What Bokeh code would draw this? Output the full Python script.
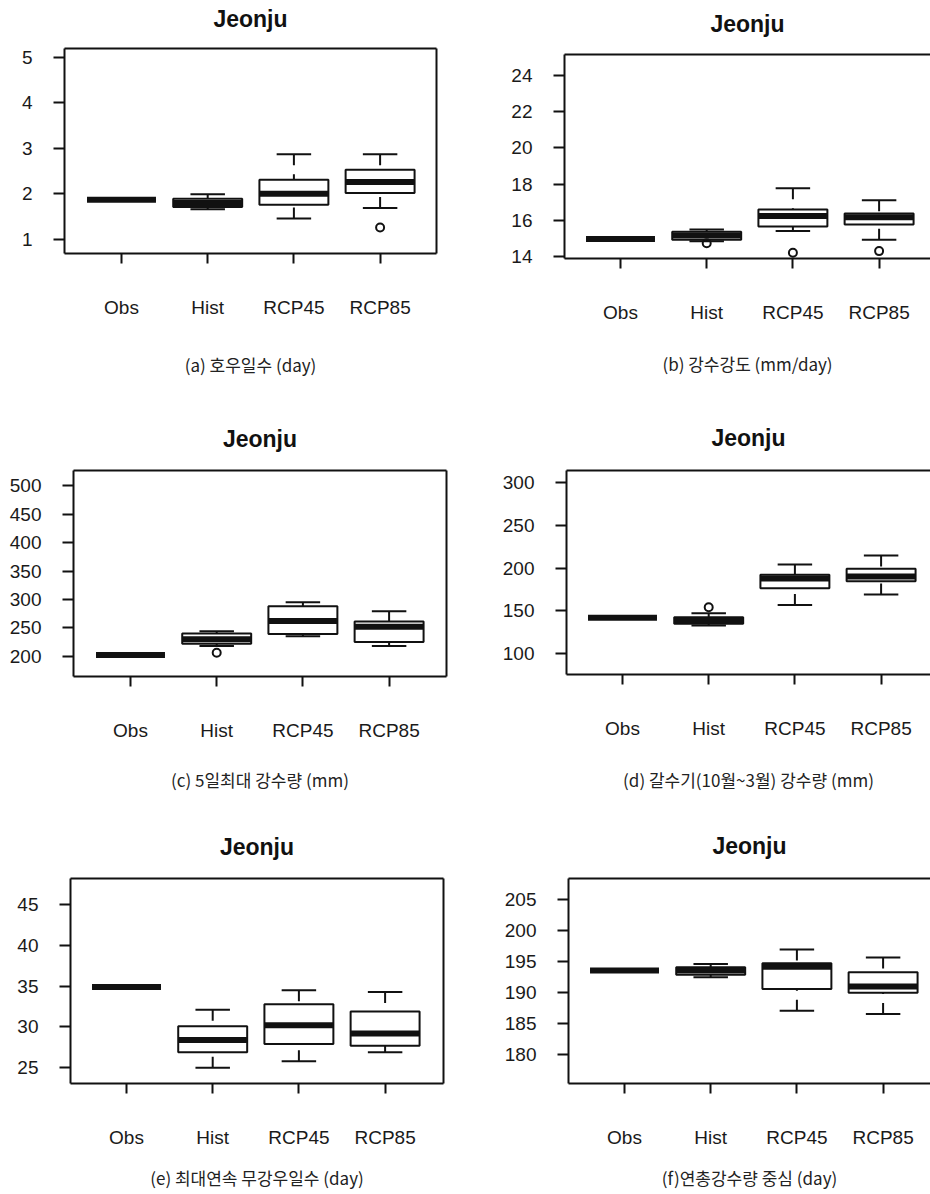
from bokeh.plotting import figure
from bokeh.models import Range1d, FixedTicker, LinearAxis, ColumnDataSource
from bokeh.layouts import column, row
from bokeh.embed import file_html
from bokeh.resources import INLINE

# ---------------- data ----------------
categories = ["Obs", "Hist", "RCP45", "RCP85"]
positions = [1, 2, 3, 4]

# (a) 호우일수 (day)
a_low = [1.87, 1.66, 1.46, 1.69]
a_q1 = [1.87, 1.71, 1.76, 2.02]
a_med = [1.87, 1.80, 2.00, 2.26]
a_q3 = [1.87, 1.89, 2.31, 2.53]
a_high = [1.87, 1.99, 2.87, 2.87]
a_out_x = [4]
a_out_y = [1.26]
a_yticks = [1, 2, 3, 4, 5]

# (b) 강수강도 (mm/day)
b_low = [14.95, 14.83, 15.39, 14.91]
b_q1 = [14.95, 14.91, 15.65, 15.75]
b_med = [14.95, 15.14, 16.22, 16.16]
b_q3 = [14.95, 15.35, 16.58, 16.36]
b_high = [14.95, 15.48, 17.77, 17.10]
b_out_x = [2, 3, 4]
b_out_y = [14.72, 14.19, 14.28]
b_yticks = [14, 16, 18, 20, 22, 24]

# (c) 5일최대 강수량 (mm)
c_low = [202, 218, 235, 218]
c_q1 = [202, 222, 239, 225]
c_med = [202, 230, 262, 252]
c_q3 = [202, 240, 288, 261]
c_high = [202, 244, 295, 279]
c_out_x = [2]
c_out_y = [206]
c_yticks = [200, 250, 300, 350, 400, 450, 500]

# (d) 갈수기(10월~3월) 강수량 (mm)
d_low = [141.8, 132.8, 156.8, 169.1]
d_q1 = [141.8, 134.8, 176.5, 184.7]
d_med = [141.8, 138.7, 187.9, 190.2]
d_q3 = [141.8, 142.5, 192.2, 199.2]
d_high = [141.8, 147.2, 204.3, 214.8]
d_out_x = [2]
d_out_y = [154.2]
d_yticks = [100, 150, 200, 250, 300]

# (e) 최대연속 무강우일수 (day)
e_low = [34.9, 25.0, 25.8, 26.9]
e_q1 = [34.9, 26.9, 27.9, 27.7]
e_med = [34.9, 28.4, 30.2, 29.2]
e_q3 = [34.9, 30.1, 32.8, 31.9]
e_high = [34.9, 32.1, 34.5, 34.3]
e_out_x = []
e_out_y = []
e_yticks = [25, 30, 35, 40, 45]

# (f) 연총강수량 중심 (day)
f_low = [193.6, 192.5, 187.1, 186.6]
f_q1 = [193.6, 192.9, 190.6, 190.0]
f_med = [193.6, 193.6, 194.2, 191.0]
f_q3 = [193.6, 194.1, 194.75, 193.3]
f_high = [193.6, 194.65, 196.96, 195.7]
f_out_x = []
f_out_y = []
f_yticks = [180, 185, 190, 195, 200, 205]

title_text = "Jeonju"
cap_a = "(a) 호우일수 (day)"
cap_b = "(b) 강수강도 (mm/day)"
cap_c = "(c) 5일최대 강수량 (mm)"
cap_d = "(d) 갈수기(10월~3월) 강수량 (mm)"
cap_e = "(e) 최대연속 무강우일수 (day)"
cap_f = "(f)연총강수량 중심 (day)"

# ---------------- style / layout ----------------
BOX_HALF = 0.4
STAPLE_HALF = 0.2
PX_PER_UNIT = 86.2
TICK_FONT = "Liberation Sans"
CAP_FONT = "Noto Sans CJK KR"
INK = "#111111"

COL_X = [0, 480]
COL_W = [480, 450]
ROW_Y = [0, 400, 810]
ROW_H = [400, 410, 382]


def blank_axis():
    ax = LinearAxis(ticker=FixedTicker(ticks=[]))
    ax.major_label_text_font_size = "0px"
    ax.major_tick_out = 0
    ax.major_tick_in = 0
    ax.minor_tick_out = 0
    ax.minor_tick_in = 0
    ax.major_label_standoff = 0
    ax.axis_line_width = 2
    ax.axis_line_color = INK
    return ax


def panel(low, q1, med, q3, high, out_x, out_y, yticks, yr, caption,
          col, rw, frame, tick1, title_gap, cap_gap):
    """frame = (left, top, right, bottom) in page pixels."""
    fl, ft, fr, fb = frame
    width, height = COL_W[col], ROW_H[rw]
    x0 = 1 - (tick1 - fl) / PX_PER_UNIT
    x1 = x0 + (fr - fl) / PX_PER_UNIT

    p = figure(width=width, height=height, title=None,
               x_range=Range1d(x0, x1), y_range=Range1d(*yr),
               output_backend="svg", toolbar_location=None,
               min_border_left=fl - COL_X[col],
               min_border_right=COL_X[col] + width - fr,
               min_border_top=ft - ROW_Y[rw],
               min_border_bottom=ROW_Y[rw] + height - fb)
    p.frame_align = False
    p.outline_line_color = None
    p.grid.visible = False
    p.background_fill_color = "white"
    p.border_fill_color = "white"

    src = ColumnDataSource(dict(
        x=positions, low=low, q1=q1, med=med, q3=q3, high=high,
        bl=[v - BOX_HALF for v in positions], br=[v + BOX_HALF for v in positions],
        sl=[v - STAPLE_HALF for v in positions], sr=[v + STAPLE_HALF for v in positions],
    ))
    p.segment(x0="x", y0="high", x1="x", y1="q3", source=src,
              line_color=INK, line_width=2, line_dash="11 9")
    p.segment(x0="x", y0="low", x1="x", y1="q1", source=src,
              line_color=INK, line_width=2, line_dash="11 9")
    p.segment(x0="sl", y0="high", x1="sr", y1="high", source=src,
              line_color=INK, line_width=2)
    p.segment(x0="sl", y0="low", x1="sr", y1="low", source=src,
              line_color=INK, line_width=2)
    p.quad(left="bl", right="br", bottom="q1", top="q3", source=src,
           fill_color=None, line_color=INK, line_width=2)
    p.segment(x0="bl", y0="med", x1="br", y1="med", source=src,
              line_color=INK, line_width=6, line_cap="butt")
    if out_x:
        p.scatter(x=out_x, y=out_y, marker="circle", size=8,
                  fill_color=None, line_color=INK, line_width=2)

    xa = p.xaxis[0]
    xa.ticker = FixedTicker(ticks=positions)
    xa.major_label_overrides = {pos: cat for pos, cat in zip(positions, categories)}
    xa.major_tick_out = 10
    xa.major_label_standoff = 33
    xa.axis_label = caption
    xa.axis_label_text_font = CAP_FONT
    xa.axis_label_text_font_size = "17px"
    xa.axis_label_text_font_style = "normal"
    xa.axis_label_text_color = "#222222"
    xa.axis_label_standoff = cap_gap

    ya = p.yaxis[0]
    ya.ticker = FixedTicker(ticks=yticks)
    ya.major_tick_out = 11
    ya.major_label_standoff = 21

    for ax in (xa, ya):
        ax.major_tick_in = 0
        ax.minor_tick_out = 0
        ax.minor_tick_in = 0
        ax.axis_line_width = 2
        ax.axis_line_color = INK
        ax.major_tick_line_width = 2
        ax.major_tick_line_color = INK
        ax.major_label_text_font = TICK_FONT
        ax.major_label_text_font_size = "19px"
        ax.major_label_text_color = "#1a1a1a"

    top = blank_axis()
    top.axis_label = title_text
    top.axis_label_text_font = TICK_FONT
    top.axis_label_text_font_size = "23px"
    top.axis_label_text_font_style = "bold"
    top.axis_label_text_color = INK
    top.axis_label_standoff = title_gap
    p.add_layout(top, "above")
    if col == 0:
        p.add_layout(blank_axis(), "right")
    return p


pa = panel(a_low, a_q1, a_med, a_q3, a_high, a_out_x, a_out_y, a_yticks, (0.69, 5.19),
           cap_a, 0, 0, (64, 48, 436, 253), 121, 17, 31)
pb = panel(b_low, b_q1, b_med, b_q3, b_high, b_out_x, b_out_y, b_yticks, (13.87, 25.18),
           cap_b, 1, 0, (564, 54, 930, 258), 620, 18, 25)
pc = panel(c_low, c_q1, c_med, c_q3, c_high, c_out_x, c_out_y, c_yticks, (164.3, 527.0),
           cap_c, 0, 1, (73, 470, 446, 676), 130, 19, 23)
pd = panel(d_low, d_q1, d_med, d_q3, d_high, d_out_x, d_out_y, d_yticks, (75.4, 314.4),
           cap_d, 1, 1, (566, 470, 930, 674), 622, 20, 25)
pe = panel(e_low, e_q1, e_med, e_q3, e_high, e_out_x, e_out_y, e_yticks, (23.07, 48.2),
           cap_e, 0, 2, (70, 878, 443, 1083), 126, 19, 14)
pf = panel(f_low, f_q1, f_med, f_q3, f_high, f_out_x, f_out_y, f_yticks, (175.4, 208.4),
           cap_f, 1, 2, (568, 878, 930, 1083), 624, 20, 14)

layout = column(row(pa, pb), row(pc, pd), row(pe, pf))

open("out.html", "w").write(file_html(layout, INLINE))
